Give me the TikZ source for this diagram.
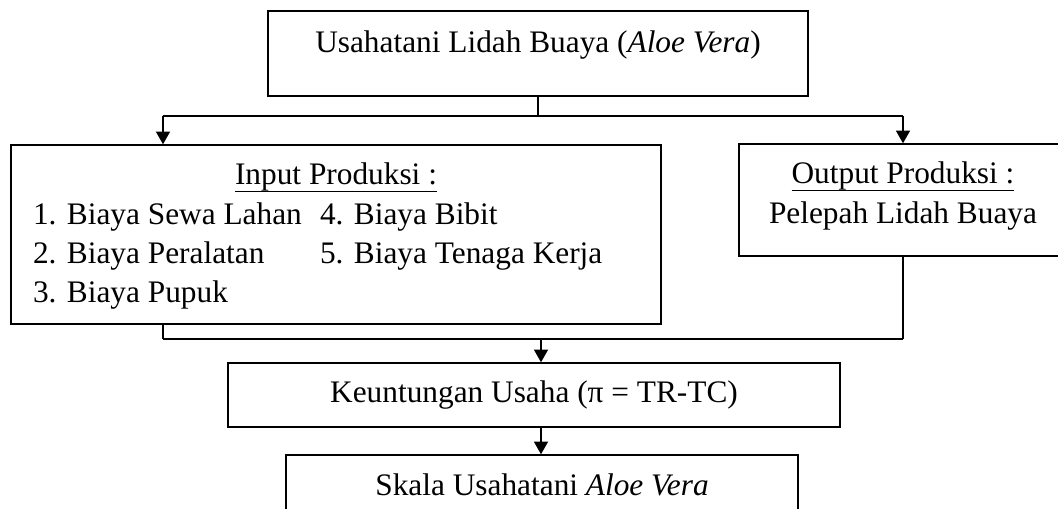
\documentclass[tikz,border=0pt]{standalone}
\usepackage{fontspec}
\setmainfont{Liberation Serif}
\usetikzlibrary{arrows.meta}
\newcommand{\garis}[1]{\underline{\smash{#1}\rule[-3pt]{0pt}{0pt}}}
\begin{document}
\begin{tikzpicture}[x=0.75pt, y=-0.75pt, line width=1.1pt, >={Triangle[width=10.5pt,length=9.5pt]},
    every node/.style={font=\fontsize{23.5}{29.5}\selectfont},
    kotak/.style={draw, rectangle, inner sep=0pt, anchor=base}]{
    \useasboundingbox (0,0) rectangle (1058,509);
    \node [kotak, minimum width=405pt, text height=31.5pt, text depth=32.25pt] (Usaha) at (538,53) {Usahatani Lidah Buaya (\textit{Aloe Vera})};
    \node [kotak, minimum width=487.5pt, text height=30pt, text depth=104.25pt] (Input) at (336,185) {\begin{tabular}[t]{@{}p{215.25pt}@{}p{239.25pt}@{}}
        \multicolumn{2}{@{}c@{}}{\garis{Input Produksi :}}\\
        1. Biaya Sewa Lahan & 4. Biaya Bibit\\
        2. Biaya Peralatan & 5. Biaya Tenaga Kerja\\
        3. Biaya Pupuk &
    \end{tabular}};
    \node [kotak, minimum width=246pt, text height=30pt, text depth=54pt] (Output) at (903,184) {\begin{tabular}[t]{@{}c@{}}\garis{Output Produksi :}\\Pelepah Lidah Buaya\end{tabular}};
    \node [kotak, minimum width=459pt, text height=30pt, text depth=18pt] (Untung) at (534,403) {Keuntungan Usaha (π = TR-TC)};
    \node [kotak, minimum width=384pt, text height=30.75pt, text depth=18pt] (Skala) at (542,496) {Skala Usahatani \textit{Aloe Vera}};

    \coordinate (Cabang) at (538,116);
    \coordinate (CabangKiri) at (163,116);
    \coordinate (CabangKanan) at (903,116);
    \coordinate (GabungKiri) at (163,339);
    \coordinate (GabungKanan) at (903,339);
    \coordinate (Gabung) at (541,339);

    \path (Usaha) edge (Cabang);
    \path (CabangKiri) edge (CabangKanan);
    \path [->] (CabangKiri) edge (CabangKiri |- Input.north);
    \path [->] (CabangKanan) edge (Output);
    \path (Input.south -| GabungKiri) edge (GabungKiri);
    \path (GabungKiri) edge (GabungKanan);
    \path (Output) edge (GabungKanan);
    \path [->] (Gabung) edge (Gabung |- Untung.north);
    \path [->] (Gabung |- Untung.south) edge (Gabung |- Skala.north);
}
\end{tikzpicture}
\end{document}
